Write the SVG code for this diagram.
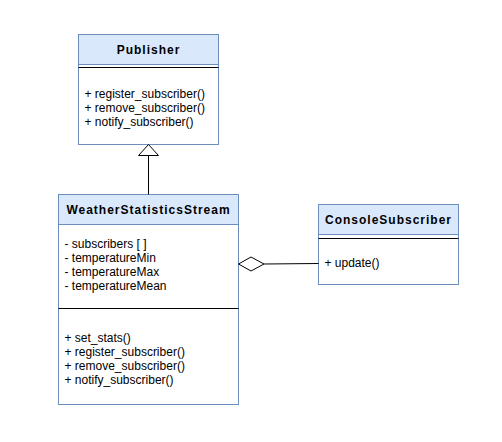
<svg xmlns="http://www.w3.org/2000/svg" width="502" height="442" viewBox="0 0 502 442">
<style>
.box{fill:#ffffff;stroke:#6c8ebf;stroke-width:1}
.hdr{fill:#dae8fc;stroke:#6c8ebf;stroke-width:1}
.sep{stroke:#000000;stroke-width:1}
.title{font-family:"Liberation Sans",Arial,sans-serif;font-size:12px;font-weight:bold;letter-spacing:1px;fill:#000000;text-anchor:middle}
.txt{font-family:"Liberation Sans",Arial,sans-serif;font-size:12px;fill:#000000}
.conn{stroke:#000000;stroke-width:1;fill:none}
</style>
<rect width="502" height="442" fill="#ffffff"/>
<g id="publisher">
<rect class="box" x="78.5" y="34.5" width="140" height="110"/>
<rect class="hdr" x="78.5" y="34.5" width="140" height="30"/>
<line class="sep" x1="78.5" y1="67.5" x2="218.5" y2="67.5"/>
<text class="title" x="148.5" y="53.5">Publisher</text>
<text class="txt" x="84.5" y="98">+ register_subscriber()</text>
<text class="txt" x="84.5" y="112">+ remove_subscriber()</text>
<text class="txt" x="84.5" y="126">+ notify_subscriber()</text>
</g>
<g id="weatherstatisticsstream">
<rect class="box" x="58.5" y="194.5" width="180" height="210"/>
<rect class="hdr" x="58.5" y="194.5" width="180" height="30"/>
<line class="sep" x1="58.5" y1="308.5" x2="238.5" y2="308.5"/>
<text class="title" x="148.5" y="213.5">WeatherStatisticsStream</text>
<text class="txt" x="64.5" y="248">- subscribers [ ]</text>
<text class="txt" x="64.5" y="262">- temperatureMin</text>
<text class="txt" x="64.5" y="276">- temperatureMax</text>
<text class="txt" x="64.5" y="290">- temperatureMean</text>
<text class="txt" x="64.5" y="342">+ set_stats()</text>
<text class="txt" x="64.5" y="356">+ register_subscriber()</text>
<text class="txt" x="64.5" y="370">+ remove_subscriber()</text>
<text class="txt" x="64.5" y="384">+ notify_subscriber()</text>
</g>
<g id="consolesubscriber">
<rect class="box" x="318.5" y="204.5" width="140" height="80"/>
<rect class="hdr" x="318.5" y="204.5" width="140" height="30"/>
<line class="sep" x1="318.5" y1="238.5" x2="458.5" y2="238.5"/>
<text class="title" x="388.5" y="223.5">ConsoleSubscriber</text>
<text class="txt" x="324.5" y="267">+ update()</text>
</g>
<g id="connectors">
<line class="conn" x1="148.5" y1="194.5" x2="148.5" y2="155.5"/>
<polygon class="conn" points="148.5,144.5 138.5,155.5 158.5,155.5" style="fill:#ffffff"/>
<line class="conn" x1="264" y1="264" x2="318.5" y2="263.5"/>
<polygon class="conn" points="238.5,264 251,257 264,264 251,271" style="fill:#ffffff"/>
</g>
</svg>
